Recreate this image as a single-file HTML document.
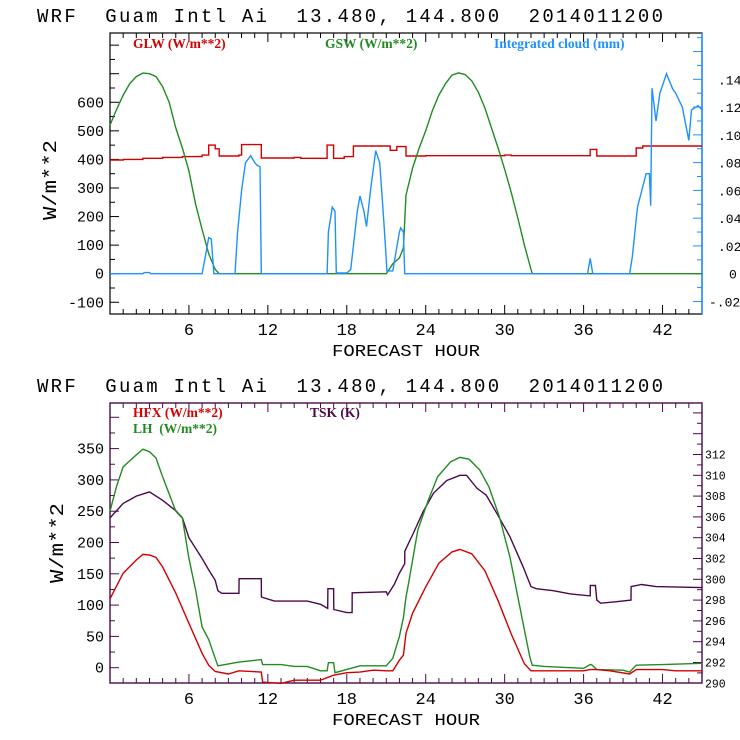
<!DOCTYPE html>
<html><head><meta charset="utf-8">
<style>
html,body{margin:0;padding:0;background:#fff;}
svg{display:block;}
text{font-family:"Liberation Mono",monospace;white-space:pre;}
.leg{font-family:"Liberation Serif",serif;font-weight:bold;font-size:13.5px;}
</style></head>
<body>
<svg id="chart" width="740" height="740" viewBox="0 0 740 740" xmlns="http://www.w3.org/2000/svg" xml:space="preserve"></svg>
<script>
// ---------- data ----------
const xTicks = [6,12,18,24,30,36,42];
const topLeftTicks = [-100,0,100,200,300,400,500,600];
const topRightTicks = [-0.02,0,0.02,0.04,0.06,0.08,0.10,0.12,0.14];
const topRightLabels = ["-.02","0",".02",".04",".06",".08",".10",".12",".14"];
const botLeftTicks = [0,50,100,150,200,250,300,350];
const botRightTicks = [290,292,294,296,298,300,302,304,306,308,310,312];

// GLW (step series)
const glwH = [0,1,2.5,4,5.5,7,7.5,8,8.3,9.8,10,11.5,14,14.5,16.5,17,17.8,18.5,21,21.3,21.8,22.5,24,30,30.5,36.5,37,39.5,40,40.5,45];
const glwV = [398,400,404,407,410,415,450,437,412,415,452,405,407,404,450,404,410,447,447,432,445,412,413,415,413,435,412,412,440,447,447];
// GSW
const gswH = [0,0.5,1,1.5,2,2.5,3,3.5,4,4.5,5,5.5,6,6.5,7,7.5,8,8.3,21,21.5,22,22.3,22.5,23,23.5,24,24.5,25,25.5,26,26.5,27,27.5,28,28.5,29,29.5,30,30.5,31,31.5,32,32.1,45];
const gswV = [520,575,625,665,690,702,700,690,655,600,510,440,360,245,155,70,15,0,0,35,55,90,275,370,440,500,570,625,665,695,703,697,675,635,580,510,440,365,285,195,100,15,0,0];
// Integrated cloud (mm)
const cldH = [0,2.5,2.6,3,3.1,7,7.3,7.5,7.7,7.9,9.5,9.7,10,10.3,10.7,11,11.2,11.4,11.5,16.5,16.6,16.9,17.1,17.2,18,18.3,18.5,18.8,19,19.3,19.5,19.8,20.2,20.5,20.8,21,21.05,21.5,22,22.1,22.3,22.4,36.3,36.5,36.7,39.5,39.7,40.1,40.75,41,41.1,41.2,41.5,41.8,42.3,42.77,43,43.5,44,44.2,44.7,45];
const cldV = [0,0,0.0008,0.0008,0,0,0.015,0.026,0.025,0,0,0.03,0.06,0.08,0.085,0.08,0.078,0.077,0,0,0.03,0.048,0.045,0.0005,0.0005,0.003,0.02,0.045,0.056,0.045,0.034,0.06,0.0886,0.08,0.04,0.01,0.002,0.002,0.03,0.033,0.03,0,0,0.011,0,0,0.012,0.048,0.072,0.072,0.049,0.1336,0.11,0.13,0.144,0.133,0.13,0.12,0.096,0.118,0.121,0.118];

// HFX
const hfxH = [0,1,2,2.5,3,3.5,4,5,6,7,7.5,8,9,9.8,11.5,11.6,13,14,16,17,18,19,20,21,21.5,22,22.3,22.5,23,24,25,26,26.6,27.5,28.5,29.5,30.5,31.5,32,36,36.5,37,38,39.5,40,42,43,45];
const hfxV = [110,151,172,181,180,176,161,119,71,23,4,-6,-10,-5,-7,-23,-25,-20,-20,-12,-8,-7,-4,-5,-5,12,20,55,87,129,167,185,189,182,155,107,54,6,-5,-5,-3,-3,-5,-10,-3,-3,-5,-5];
// LH
const lhH = [0,0.5,1,2,2.5,3,3.5,4,5,5.5,6,6.5,7,7.5,8,8.2,9.8,11.5,11.6,13,14,15,16,16.5,16.6,17,17.1,19,20,21,21.5,22,22.3,22.5,22.7,23.4,24.2,24.9,25.9,26.6,27.3,28.1,28.8,29.6,30.4,31.1,31.9,32.1,33,36,36.5,36.6,37,39,39.5,40,42,45];
const lhV = [250,290,321,340,349,345,335,305,250,239,175,125,65,45,15,3,9,13,5,5,2,2,-5,-5,8,8,-8,3,3,3,15,50,80,113,135,220,268,305,329,336,333,316,289,241,177,103,18,4,2,-1,5,5,-3,-4,-7,4,5,7];
// TSK (K)
const tskH = [0,1,2,3,4,5,5.5,6,7,7.5,8,8.2,8.5,9.8,9.81,11.5,11.51,12.5,15,16,16.55,16.56,17,17.01,18,18.4,18.41,21,21.1,21.6,22,22.4,22.41,23.05,23.8,24.6,25.6,26.6,27.1,27.9,28.6,29.4,30.4,31.4,32,32.4,33.7,35,36.5,36.51,36.9,37,37.3,38.5,39.6,39.61,40.4,41.5,45];
const tskV = [305.9,307.3,308.0,308.4,307.6,306.6,305.9,304.0,302.0,300.9,299.9,298.9,298.65,298.65,300.06,300.06,298.3,297.9,297.9,297.6,297.2,299.1,299.1,297.1,296.8,296.8,298.7,298.8,298.5,299.5,300.6,301.5,302.7,304.4,306.5,308.3,309.5,310.0,310.0,308.75,308.1,306.35,304.1,301.2,299.3,299.1,298.9,298.6,298.4,299.4,299.4,298.0,297.7,297.85,298.0,299.3,299.5,299.3,299.2];

// ---------- drawing ----------
const NS = "http://www.w3.org/2000/svg";
const svg = document.getElementById("chart");
function mk(tag, attrs, parent){
  const e = document.createElementNS(NS, tag);
  for (const k in attrs) e.setAttribute(k, attrs[k]);
  (parent||svg).appendChild(e);
  return e;
}
const X0 = 110, X1 = 702;
const xs = h => X0 + (X1 - X0) * h / 45;
const T = {top:33, bot:314};
const tyL = v => 273.7 - v * 0.2857;
const tyR = v => 273.7 - v * 1388.5;
const B = {top:403, bot:683};
const byL = v => 667.7 - v * 0.626;
const byR = v => 683.3 - (v - 290) * 10.4;

function linePath(H, V, fy, step){
  let d = "";
  for (let i = 0; i < H.length; i++){
    const x = xs(H[i]).toFixed(1), y = fy(V[i]).toFixed(1);
    if (i === 0) d += "M" + x + " " + y;
    else if (step) d += "H" + x + "V" + y;
    else d += "L" + x + " " + y;
  }
  return d;
}
function title(y, name){
  const t = mk("text", {x:37, y:y, "font-size":19, textLength:626, lengthAdjust:"spacing", fill:"#000"});
  t.textContent = "WRF  Guam Intl Ai  13.480, 144.800  2014011200";
  
  
}
function xaxis(top, bot, color, name){
  const g = mk("g", {});
  
  
  for (let h = 1; h < 45; h++){
    const len = (h % 6 === 0) ? 9 : 5;
    mk("line", {x1:xs(h), x2:xs(h), y1:bot, y2:bot-len, stroke:color, "stroke-width":1}, g);
    mk("line", {x1:xs(h), x2:xs(h), y1:top, y2:top+len, stroke:color, "stroke-width":1}, g);
  }
  xTicks.forEach(h => {
    const t = mk("text", {x:xs(h), y:bot+21, "font-size":17, "text-anchor":"middle", fill:"#000"}, g);
    t.textContent = h;
  });
  const lab = mk("text", {x:406, y:bot+42, "font-size":17, "text-anchor":"middle", textLength:148, lengthAdjust:"spacingAndGlyphs", fill:"#000"});
  lab.textContent = "FORECAST HOUR";
  
  
}
function ylabel(x, y, name){
  const t = mk("text", {x:x, y:y, "font-size":19, "text-anchor":"middle", transform:"rotate(-90 "+x+" "+y+")", textLength:80, lengthAdjust:"spacingAndGlyphs", fill:"#000"});
  t.textContent = "W/m**2";
  
  
}
function series(d, color, name){
  const p = mk("path", {d:d, fill:"none", stroke:color, "stroke-width":1.4});
  
  
}
function legend(x, y, color, txt, name){
  const t = mk("text", {x:x, y:y, fill:color, class:"leg"});
  t.textContent = txt;
  
  
}

// ===== TOP PANEL =====
title(22, "top-title");
const RED = "#d40000", GREEN = "#228b22", BLUE = "#1e90ff", PURP = "#4a0a4a";
mk("rect", {x:X0, y:T.top, width:X1-X0, height:T.bot-T.top, fill:"none", stroke:"#000", "stroke-width":1.2});
mk("line", {x1:X1, x2:X1, y1:T.top, y2:T.bot, stroke:BLUE, "stroke-width":1.5});
xaxis(T.top, T.bot, "#000", "top-x-axis");
const tly = mk("g", {});


for (let v = -100; v <= 800; v += 50){
  const len = (v % 100 === 0) ? 9 : 5;
  mk("line", {x1:X0, x2:X0+len, y1:tyL(v), y2:tyL(v), stroke:"#000"}, tly);
}
topLeftTicks.forEach(v => {
  const t = mk("text", {x:104, y:tyL(v)+5, "font-size":15, "text-anchor":"end", fill:"#000"}, tly);
  t.textContent = v;
});
const try_ = mk("g", {});


for (let i = -2; i <= 19; i++){
  const v = i / 100;
  const y = tyR(v);
  if (y < T.top || y > T.bot) continue;
  const len = (i % 2 === 0) ? 9 : 5;
  mk("line", {x1:X1, x2:X1-len, y1:y, y2:y, stroke:BLUE}, try_);
}
topRightTicks.forEach((v, i) => {
  const t = mk("text", {x:718, y:tyR(v)+5, "font-size":13, fill:"#000"}, try_);
  if (v < 0) t.setAttribute("x", 709);
  if (v === 0) t.setAttribute("x", 729);
  t.textContent = topRightLabels[i];
});
ylabel(56, 180, "top-y-axis-title");
series(linePath(glwH, glwV, tyL, true), RED, "glw-line");
series(linePath(gswH, gswV, tyL, false), GREEN, "gsw-line");
series(linePath(cldH, cldV, tyR, false), BLUE, "cloud-line");
legend(133, 48, RED, "GLW (W/m**2)", "legend-glw");
legend(325, 48, GREEN, "GSW (W/m**2)", "legend-gsw");
legend(494, 48, BLUE, "Integrated cloud (mm)", "legend-cloud");

// ===== BOTTOM PANEL =====
title(392, "bottom-title");
mk("rect", {x:X0, y:B.top, width:X1-X0, height:B.bot-B.top, fill:"none", stroke:PURP, "stroke-width":1.4});
xaxis(B.top, B.bot, PURP, "bottom-x-axis");
const bly = mk("g", {});


for (let v = -25; v <= 425; v += 25){
  const y = byL(v);
  if (y < B.top || y > B.bot) continue;
  const len = (v % 50 === 0) ? 9 : 5;
  mk("line", {x1:X0, x2:X0+len, y1:y, y2:y, stroke:PURP}, bly);
}
botLeftTicks.forEach(v => {
  const t = mk("text", {x:104, y:byL(v)+5, "font-size":15, "text-anchor":"end", fill:"#000"}, bly);
  t.textContent = v;
});
const bry = mk("g", {});


for (let v = 290; v <= 317; v += 1){
  const y = byR(v);
  if (y < B.top || y > B.bot) continue;
  const len = (v % 2 === 0) ? 9 : 5;
  mk("line", {x1:X1, x2:X1-len, y1:y, y2:y, stroke:PURP}, bry);
}
botRightTicks.forEach(v => {
  const t = mk("text", {x:705, y:byR(v)+4, "font-size":11.5, fill:"#000"}, bry);
  t.textContent = v;
});
ylabel(63, 543, "bottom-y-axis-title");
series(linePath(tskH, tskV, byR, false), PURP, "tsk-line");
series(linePath(lhH, lhV, byL, false), GREEN, "lh-line");
series(linePath(hfxH, hfxV, byL, false), RED, "hfx-line");
legend(133, 417, RED, "HFX (W/m**2)", "legend-hfx");
legend(133, 433, GREEN, "LH  (W/m**2)", "legend-lh");
legend(310, 417, PURP, "TSK (K)", "legend-tsk");
</script>
</body></html>
